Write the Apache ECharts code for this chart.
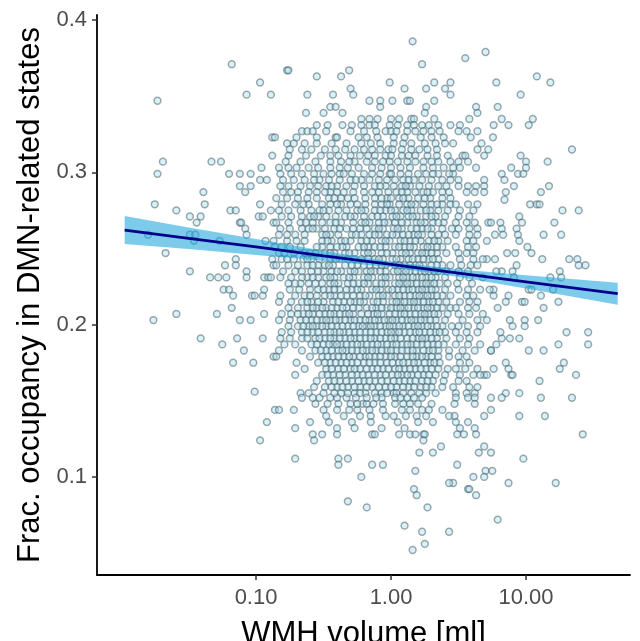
<!DOCTYPE html>
<html>
<head>
<meta charset="utf-8">
<title>WMH volume vs DMN occupancy</title>
<script src="https://cdn.jsdelivr.net/npm/echarts@6/dist/echarts.min.js"></script>
<style>
  html, body { margin: 0; padding: 0; background: #fff; }
  #chart { width: 640px; height: 641px; }
</style>
</head>
<body>
<div id="chart"></div>
<script>
// x = log10(WMH volume [ml]), y = fractional occupancy in DMN-related states
const xTicks = [-1, 0, 1];
const yTicks = [0.1, 0.2, 0.3, 0.4];

// sparse points, low volumes
const leftPoints = [
  [-1.18,0.371],[-1.73,0.347],[-0.97,0.359],[-1.07,0.351],[-0.89,0.351],[-0.88,0.323],[-0.88,0.311],
  [-1.69,0.307],[-1.73,0.299],[-1.33,0.307],[-1.26,0.307],[-0.96,0.303],[-1.20,0.299],[-1.12,0.299],
  [-1.04,0.299],[-0.97,0.295],[-0.92,0.295],[-1.12,0.291],[-1.04,0.291],[-1.08,0.287],[-1.39,0.287],
  [-1.75,0.279],[-1.59,0.275],[-1.38,0.279],[-1.49,0.271],[-1.41,0.271],[-1.44,0.267],[-1.19,0.275],
  [-1.15,0.275],[-1.12,0.267],[-1.11,0.267],[-1.08,0.263],[-1.07,0.259],[-0.97,0.279],[-0.98,0.271],
  [-0.95,0.271],[-0.89,0.275],[-0.87,0.267],[-1.80,0.259],[-1.49,0.259],[-1.45,0.259],[-1.46,0.255],
  [-1.27,0.255],[-0.93,0.255],[-0.87,0.255],[-1.67,0.247],[-1.23,0.239],[-1.15,0.243],[-1.15,0.239],
  [-0.88,0.243],[-0.87,0.239],[-1.49,0.235],[-1.07,0.235],[-1.34,0.231],[-1.28,0.231],[-1.22,0.231],
  [-1.07,0.231],[-0.94,0.231],[-0.91,0.231],[-0.89,0.231],[-1.24,0.223],[-1.20,0.223],[-1.17,0.219],
  [-1.03,0.219],[-1.01,0.219],[-0.95,0.219],[-0.94,0.223],[-1.18,0.211],[-1.76,0.203],[-1.59,0.207],
  [-1.29,0.207],[-1.12,0.203],[-1.04,0.203],[-0.94,0.207],[-1.41,0.191],[-1.25,0.187],[-1.14,0.191],
  [-0.95,0.191],[-1.09,0.183],[-0.87,0.179],[-1.17,0.175],[-1.02,0.175],[-1.01,0.156],
  [-0.92,0.136],[-0.97,0.124],[-0.86,0.144]
];

// sparse points, high volumes
const rightPoints = [
  [0.70,0.379],[0.55,0.375],[0.78,0.359],[1.08,0.363],[1.18,0.359],[0.96,0.351],[0.63,0.343],[0.64,0.339],
  [0.79,0.343],[0.58,0.335],[0.82,0.335],[0.87,0.331],[1.05,0.335],[1.02,0.331],[0.76,0.331],[0.755,0.323],
  [0.51,0.331],[0.50,0.327],[0.56,0.327],[0.64,0.327],[0.59,0.323],[0.46,0.319],[0.67,0.319],[0.64,0.315],
  [0.72,0.315],[0.69,0.311],[0.53,0.311],[0.55,0.311],[1.34,0.315],[0.96,0.311],[1.00,0.307],[1.16,0.307],
  [0.57,0.307],[0.50,0.307],[0.63,0.303],[0.89,0.303],[1.00,0.303],[0.51,0.303],[0.94,0.299],[0.98,0.299],
  [0.82,0.299],[0.46,0.299],[0.50,0.295],[0.69,0.295],[0.84,0.295],[0.91,0.291],[1.17,0.291],[1.11,0.287],
  [0.50,0.291],[0.57,0.291],[0.63,0.291],[0.69,0.291],[0.56,0.287],[0.62,0.287],[0.69,0.287],[0.85,0.287],
  [0.84,0.282],[1.03,0.279],[1.08,0.279],[1.10,0.279],[1.27,0.275],[1.39,0.275],[0.95,0.271],[0.97,0.267],
  [1.21,0.267],[1.13,0.259],[1.26,0.259],[0.93,0.263],[0.94,0.259],[0.82,0.263],[0.83,0.259],[0.72,0.267],
  [0.74,0.267],[0.81,0.267],[0.77,0.259],[0.71,0.255],[0.95,0.255],[1.01,0.251],[1.04,0.247],[0.86,0.247],
  [0.92,0.247],[1.12,0.243],[1.32,0.243],[1.38,0.243],[1.39,0.239],[1.44,0.239],[0.93,0.239],[0.77,0.243],
  [0.71,0.243],[1.25,0.235],[1.18,0.231],[1.26,0.231],[0.90,0.235],[0.91,0.231],[0.82,0.235],[0.78,0.235],
  [1.02,0.223],[1.04,0.223],[1.20,0.223],[1.11,0.219],[1.24,0.215],[0.97,0.215],[0.99,0.215],[0.87,0.219],
  [0.85,0.215],[1.13,0.211],[0.79,0.211],[0.76,0.219],[0.76,0.223],[1.09,0.203],[0.99,0.203],[0.99,0.199],
  [0.88,0.203],[0.90,0.199],[1.30,0.195],[1.46,0.195],[1.46,0.187],[1.24,0.187],[1.13,0.183],[1.02,0.183],
  [0.95,0.191],[0.88,0.191],[0.82,0.191],[0.81,0.195],[0.78,0.187],[0.74,0.183],[1.28,0.175],[1.25,0.171],
  [1.37,0.167],[1.10,0.163],[0.85,0.175],[0.87,0.171],[0.89,0.167],[0.90,0.167],[0.76,0.171],[0.69,0.167],
  [0.71,0.167],
  [0.48,0.155],[0.56,0.155],[0.62,0.155],[0.85,0.155],[0.95,0.155],[0.74,0.152],[0.82,0.152],[1.11,0.152],
  [1.34,0.152],[0.48,0.152],[0.57,0.152],[0.62,0.152],[0.62,0.148],[0.47,0.148],[0.74,0.144],[0.69,0.140],
  [0.95,0.140],[1.14,0.140],[0.47,0.140],[0.48,0.136],[0.57,0.136],[0.51,0.132],[0.62,0.132],[0.49,0.128],
  [0.54,0.128],[0.63,0.128],[1.42,0.128],[0.69,0.120],[0.65,0.116],[0.74,0.116],[0.98,0.112],[0.49,0.108],
  [0.70,0.104],[0.75,0.104],[0.61,0.100],[0.69,0.100],[0.87,0.096],[1.22,0.096],[0.46,0.096],[0.57,0.092],
  [0.58,0.092],[0.63,0.088],[0.79,0.072]
];

// sparse points, low occupancy
const lowPoints = [
  [0.37,0.120],[0.21,0.116],[0.31,0.116],[-0.71,0.112],[-0.39,0.112],[-0.32,0.112],[-0.39,0.108],
  [-0.14,0.108],[-0.06,0.108],[0.18,0.104],[-0.22,0.100],[0.43,0.096],[0.17,0.092],[0.19,0.088],
  [-0.32,0.084],[-0.18,0.080],[0.27,0.080],[0.10,0.068],[0.23,0.064],[0.43,0.064],[0.25,0.056],[0.16,0.052]
];

// dense core, one entry per occupancy level: [occupancy, [log10 volumes]]
const coreRows = [
  [0.386,[0.16]],
  [0.371,[0.23]],
  [0.367,[-0.77,-0.76,-0.31]],
  [0.363,[-0.55,-0.37]],
  [0.359,[-0.01,0.32,0.44]],
  [0.355,[-0.30,0.10,0.26,0.40]],
  [0.351,[-0.62,-0.43,-0.28,0.44]],
  [0.347,[-0.16,-0.08,0.01,0.12,0.14,0.32]],
  [0.343,[-0.45,-0.41,-0.08,0.26]],
  [0.339,[-0.63,-0.50,-0.36,0.25]],
  [0.335,[-0.22,-0.16,-0.10,0.00,0.06,0.15,0.17,0.32]],
  [0.331,[-0.36,-0.29,-0.22,-0.16,-0.12,-0.01,0.05,0.12,0.17,0.23,0.28,0.44]],
  [0.327,[-0.66,-0.62,-0.58,-0.11,-0.04,0.00,0.04,0.12,0.18,0.24,0.30]],
  [0.323,[-0.86,-0.41,-0.40,-0.24,-0.18,0.39]],
  [0.319,[-0.77,-0.72,-0.64,-0.44,-0.33,-0.08,0.02,0.09,0.15,0.25]],
  [0.315,[-0.75,-0.59,-0.49,-0.41,-0.34,-0.27,-0.20,-0.14,-0.08,-0.02,0.01,0.08,0.15,0.21,0.34]],
  [0.311,[-0.76,-0.39,-0.30,-0.23,-0.12,-0.04,0.08,0.18,0.27,0.42]],
  [0.307,[-0.67,-0.56,-0.45,-0.37,-0.27,-0.18,-0.12,-0.01,0.12,0.24,0.35,0.44]],
  [0.303,[-0.76,-0.70,-0.61,-0.54,-0.45,-0.38,-0.32,-0.24,-0.14,-0.07,0.00,0.07,0.14,0.24,0.31,0.39]],
  [0.299,[-0.74,-0.66,-0.57,-0.50,-0.44,-0.38,-0.29,-0.20,-0.14,-0.08,-0.01,0.07,0.13,0.20,0.26,0.35,0.43]],
  [0.295,[-0.72,-0.64,-0.53,-0.46,-0.38,-0.30,-0.22,-0.16,-0.09,-0.03,0.03,0.09,0.17,0.23,0.30,0.38]],
  [0.291,[-0.82,-0.76,-0.67,-0.60,-0.54,-0.48,-0.40,-0.33,-0.27,-0.20,-0.12,-0.04,0.02,0.08,0.14,0.21,0.28,0.35,0.41]],
  [0.287,[-0.80,-0.69,-0.61,-0.55,-0.45,-0.35,-0.28,-0.20,-0.09,-0.02,0.04,0.12,0.18,0.24,0.31,0.38]],
  [0.283,[-0.85,-0.77,-0.69,-0.62,-0.55,-0.46,-0.37,-0.27,-0.19,-0.12,-0.03,0.06,0.13,0.20,0.29,0.38,0.44]],
  [0.279,[-0.81,-0.71,-0.61,-0.51,-0.45,-0.37,-0.30,-0.25,-0.19,-0.12,-0.07,-0.01,0.06,0.12,0.18,0.24,0.30,0.38,0.44]],
  [0.275,[-0.83,-0.76,-0.67,-0.59,-0.53,-0.46,-0.39,-0.33,-0.25,-0.19,-0.12,-0.04,0.03,0.09,0.15,0.22,0.29,0.35,0.42]],
  [0.271,[-0.81,-0.74,-0.66,-0.60,-0.54,-0.48,-0.41,-0.34,-0.27,-0.20,-0.14,-0.06,0.01,0.07,0.13,0.19,0.26,0.33,0.40]],
  [0.267,[-0.85,-0.76,-0.67,-0.58,-0.51,-0.45,-0.37,-0.28,-0.22,-0.16,-0.09,-0.02,0.03,0.12,0.19,0.25,0.31,0.39]],
  [0.263,[-0.82,-0.75,-0.66,-0.61,-0.55,-0.49,-0.42,-0.33,-0.23,-0.18,-0.12,-0.06,0.02,0.08,0.15,0.23,0.30,0.38,0.45]],
  [0.259,[-0.83,-0.71,-0.64,-0.51,-0.45,-0.39,-0.29,-0.22,-0.16,-0.09,-0.03,0.04,0.09,0.17,0.23,0.30,0.40]],
  [0.255,[-0.77,-0.64,-0.51,-0.44,-0.37,-0.30,-0.22,-0.14,-0.07,-0.01,0.07,0.14,0.22,0.28,0.35,0.42]],
  [0.251,[-0.86,-0.81,-0.75,-0.67,-0.51,-0.45,-0.40,-0.33,-0.24,-0.17,-0.12,-0.04,0.03,0.10,0.17,0.24,0.30,0.38]],
  [0.247,[-0.83,-0.79,-0.72,-0.64,-0.56,-0.49,-0.42,-0.34,-0.27,-0.20,-0.14,-0.07,0.01,0.08,0.14,0.20,0.26,0.34,0.41]],
  [0.243,[-0.81,-0.72,-0.65,-0.59,-0.53,-0.45,-0.38,-0.32,-0.22,-0.12,-0.06,0.01,0.07,0.13,0.20,0.28,0.35]],
  [0.239,[-0.85,-0.76,-0.69,-0.62,-0.54,-0.49,-0.43,-0.34,-0.25,-0.16,-0.11,-0.04,0.03,0.10,0.18,0.24,0.30,0.38,0.44]],
  [0.235,[-0.80,-0.71,-0.59,-0.50,-0.44,-0.37,-0.30,-0.24,-0.18,-0.12,-0.04,0.02,0.08,0.14,0.22,0.28,0.35,0.41]],
  [0.231,[-0.82,-0.74,-0.62,-0.54,-0.48,-0.42,-0.35,-0.28,-0.20,-0.14,-0.07,-0.01,0.06,0.12,0.19,0.26,0.33,0.40]],
  [0.227,[-0.76,-0.67,-0.61,-0.51,-0.45,-0.39,-0.32,-0.24,-0.17,-0.11,-0.04,0.03,0.09,0.15,0.23,0.29,0.36,0.42]],
  [0.223,[-0.75,-0.60,-0.54,-0.46,-0.38,-0.29,-0.22,-0.14,-0.08,-0.02,0.05,0.13,0.20,0.26,0.33,0.40]],
  [0.219,[-0.82,-0.71,-0.64,-0.55,-0.49,-0.42,-0.33,-0.23,-0.16,-0.09,-0.03,0.03,0.10,0.18,0.24,0.30,0.38,0.44]],
  [0.215,[-0.83,-0.74,-0.66,-0.59,-0.50,-0.43,-0.35,-0.27,-0.20,-0.13,-0.06,0.01,0.07,0.14,0.20,0.28,0.35,0.41]],
  [0.211,[-0.76,-0.69,-0.62,-0.55,-0.48,-0.40,-0.33,-0.24,-0.18,-0.11,-0.03,0.04,0.10,0.17,0.24,0.30,0.38,0.44]],
  [0.207,[-0.81,-0.74,-0.65,-0.58,-0.49,-0.42,-0.34,-0.28,-0.22,-0.13,-0.07,-0.01,0.07,0.14,0.22,0.28,0.35,0.42]],
  [0.203,[-0.83,-0.75,-0.67,-0.59,-0.51,-0.45,-0.38,-0.30,-0.23,-0.16,-0.09,-0.02,0.04,0.12,0.18,0.25,0.33,0.40]],
  [0.199,[-0.76,-0.69,-0.61,-0.55,-0.48,-0.40,-0.32,-0.24,-0.18,-0.12,-0.04,0.02,0.09,0.17,0.23,0.30,0.38,0.45]],
  [0.195,[-0.81,-0.74,-0.66,-0.58,-0.49,-0.42,-0.35,-0.27,-0.19,-0.11,-0.03,0.03,0.10,0.18,0.25,0.33,0.40]],
  [0.191,[-0.82,-0.75,-0.66,-0.56,-0.49,-0.42,-0.34,-0.27,-0.19,-0.12,-0.04,0.03,0.12,0.20,0.26,0.34,0.41]],
  [0.187,[-0.79,-0.71,-0.59,-0.50,-0.43,-0.37,-0.29,-0.22,-0.14,-0.07,0.01,0.08,0.15,0.23,0.31,0.39]],
  [0.183,[-0.83,-0.66,-0.56,-0.48,-0.39,-0.33,-0.25,-0.18,-0.11,-0.03,0.04,0.12,0.19,0.28,0.35,0.43]],
  [0.179,[-0.85,-0.60,-0.51,-0.43,-0.35,-0.28,-0.19,-0.12,-0.04,0.03,0.12,0.19,0.26,0.35,0.43]],
  [0.175,[-0.70,-0.54,-0.45,-0.37,-0.29,-0.20,-0.12,-0.03,0.06,0.13,0.20,0.29,0.36]],
  [0.171,[-0.64,-0.48,-0.39,-0.30,-0.23,-0.14,-0.06,0.03,0.10,0.18,0.26,0.35,0.42]],
  [0.167,[-0.71,-0.51,-0.43,-0.34,-0.25,-0.17,-0.08,0.01,0.08,0.15,0.24,0.33,0.40]],
  [0.163,[-0.55,-0.46,-0.38,-0.29,-0.20,-0.12,-0.03,0.06,0.14,0.23,0.31,0.39]],
  [0.159,[-0.57,-0.49,-0.40,-0.32,-0.23,-0.14,-0.04,0.04,0.13,0.22,0.30,0.38]],
  [0.155,[-0.67,-0.61,-0.37,-0.27,-0.19,-0.07,0.02,0.04,0.26,0.33]],
  [0.152,[-0.66,-0.53,-0.40,-0.33,-0.07,0.03,0.12]],
  [0.148,[-0.56,-0.39,-0.30,-0.21,-0.18,-0.13,0.03,0.09,0.30]],
  [0.144,[-0.83,-0.72,-0.25,-0.16,0.08,0.23,0.28,0.38]],
  [0.140,[-0.23,-0.15,-0.04,0.02,0.11,0.43]],
  [0.136,[-0.60,-0.29,0.31]],
  [0.132,[-0.71,-0.07]],
  [0.128,[-0.58,-0.51,-0.40,-0.14,-0.12,0.06,0.14,0.18,0.24,0.25]],
  [0.124,[-0.57,0.24]]
];

// overlapping points hidden inside the core (second pass over the same levels)
const coreOverlap = [
  [0.331,[-0.55,-0.47,0.35]],
  [0.327,[-0.48,-0.30,-0.20,0.36]],
  [0.323,[-0.70,-0.55,-0.10,0.02,0.10,0.22,0.30]],
  [0.319,[-0.55,-0.22,-0.15,0.33,0.40]],
  [0.315,[-0.66,0.27]],
  [0.311,[-0.63,-0.52,-0.45,-0.17,0.00,0.13,0.34]],
  [0.307,[-0.78,-0.31,-0.06,0.05,0.18,0.30]],
  [0.303,[-0.83,0.46]],
  [0.299,[-0.82,-0.35,0.00,0.31]],
  [0.295,[-0.80,-0.57,-0.26,0.13,0.44]],
  [0.291,[-0.44,-0.08,0.11]],
  [0.287,[-0.74,-0.49,-0.40,-0.14,0.08,0.27,0.43]],
  [0.283,[-0.42,-0.32,-0.07,0.00,0.09,0.25]],
  [0.279,[-0.65,-0.40,-0.03,0.15,0.34]],
  [0.275,[-0.50,-0.22,-0.08,0.00,0.12,0.26]],
  [0.271,[-0.57,-0.30,-0.10,0.04,0.16,0.30]],
  [0.267,[-0.63,-0.41,-0.19,-0.05,0.08,0.22,0.35]],
  [0.263,[-0.58,-0.38,-0.28,-0.09,0.05,0.19,0.27]],
  [0.259,[-0.77,-0.48,-0.26,-0.12,0.01,0.13,0.20,0.35]],
  [0.255,[-0.70,-0.47,-0.34,-0.18,-0.04,0.10,0.18,0.32]],
  [0.251,[-0.55,-0.36,-0.20,-0.08,0.06,0.14,0.27,0.34]],
  [0.247,[-0.60,-0.45,-0.31,-0.17,-0.03,0.11,0.23,0.30]],
  [0.243,[-0.77,-0.62,-0.41,-0.27,-0.17,-0.09,0.04,0.16,0.24,0.31]],
  [0.239,[-0.58,-0.46,-0.29,-0.20,-0.07,0.06,0.14,0.21,0.34]],
  [0.235,[-0.66,-0.54,-0.40,-0.27,-0.15,-0.08,0.05,0.11,0.18,0.25,0.32]],
  [0.231,[-0.66,-0.58,-0.45,-0.31,-0.17,-0.04,0.09,0.16,0.23,0.30]],
  [0.227,[-0.71,-0.56,-0.42,-0.28,-0.20,-0.07,0.06,0.12,0.19,0.26,0.32]],
  [0.223,[-0.68,-0.50,-0.42,-0.33,-0.25,-0.11,0.01,0.09,0.16,0.23,0.30]],
  [0.219,[-0.60,-0.45,-0.37,-0.28,-0.19,-0.06,0.06,0.14,0.21,0.27,0.34]],
  [0.215,[-0.62,-0.54,-0.39,-0.30,-0.23,-0.10,0.04,0.10,0.17,0.24,0.31]],
  [0.211,[-0.58,-0.51,-0.44,-0.36,-0.28,-0.14,-0.07,0.00,0.07,0.13,0.20,0.27,0.34]],
  [0.207,[-0.69,-0.61,-0.53,-0.45,-0.38,-0.31,-0.17,-0.10,0.03,0.10,0.18,0.25,0.32]],
  [0.203,[-0.63,-0.55,-0.48,-0.41,-0.34,-0.27,-0.19,-0.12,-0.05,0.01,0.08,0.15,0.22,0.29]],
  [0.199,[-0.65,-0.58,-0.51,-0.44,-0.36,-0.28,-0.21,-0.15,-0.08,-0.01,0.06,0.13,0.20,0.27,0.34]],
  [0.195,[-0.62,-0.54,-0.45,-0.38,-0.31,-0.23,-0.15,-0.07,0.00,0.06,0.14,0.21,0.29,0.36]],
  [0.191,[-0.62,-0.53,-0.45,-0.38,-0.30,-0.23,-0.15,-0.08,0.00,0.07,0.16,0.23,0.30]],
  [0.187,[-0.55,-0.46,-0.40,-0.33,-0.25,-0.18,-0.10,-0.03,0.04,0.12,0.19,0.27,0.35]],
  [0.183,[-0.52,-0.44,-0.36,-0.29,-0.21,-0.14,-0.07,0.00,0.08,0.16,0.24,0.31]],
  [0.179,[-0.47,-0.39,-0.31,-0.23,-0.16,-0.08,0.00,0.07,0.16,0.23,0.30]],
  [0.175,[-0.49,-0.41,-0.33,-0.25,-0.16,-0.08,0.01,0.09,0.17,0.25,0.32]],
  [0.171,[-0.44,-0.35,-0.27,-0.18,-0.10,-0.02,0.06,0.14,0.22,0.30]],
  [0.167,[-0.47,-0.38,-0.29,-0.21,-0.12,-0.04,0.05,0.12,0.20,0.28]],
  [0.163,[-0.42,-0.33,-0.24,-0.16,-0.07,0.02,0.10,0.18,0.27]],
  [0.159,[-0.44,-0.36,-0.27,-0.18,-0.09,0.00,0.09,0.17,0.26]],
  [0.155,[-0.50,-0.42,-0.32,-0.23,-0.12,-0.03,0.09,0.15,0.21]],
  [0.152,[-0.58,-0.45,-0.26,-0.18,-0.11,0.07,0.17,0.23]],
  [0.148,[-0.47,-0.25,-0.06,0.14,0.20]],
  [0.144,[-0.50,-0.40,-0.31,-0.06,0.14]],
  [0.140,[-0.48,-0.35,0.19,0.26]],
  [0.136,[-0.46,-0.15,0.05,0.20]],
  [0.132,[-0.40,-0.27,0.10]]
];

// dense strip just right of 3 ml
const rightRows = [
  [0.279,[0.48,0.57,0.64]],[0.275,[0.51,0.61]],[0.271,[0.50,0.58]],[0.267,[0.48,0.56,0.62]],
  [0.263,[0.50,0.58,0.64]],[0.259,[0.48,0.58,0.64]],[0.255,[0.56,0.61]],[0.251,[0.48,0.57,0.63]],
  [0.247,[0.50,0.56,0.61]],[0.243,[0.51,0.61,0.68]],[0.239,[0.52,0.59,0.64]],[0.235,[0.50,0.57]],
  [0.231,[0.51,0.58,0.68]],[0.227,[0.49,0.60]],[0.223,[0.50,0.57,0.66,0.73]],[0.219,[0.56,0.61]],
  [0.215,[0.51,0.58,0.64]],[0.211,[0.48,0.57,0.63]],[0.207,[0.50,0.58,0.68]],[0.203,[0.53,0.64,0.71]],
  [0.199,[0.50,0.57,0.66]],[0.195,[0.48,0.56,0.64]],[0.191,[0.51,0.58]],[0.187,[0.48,0.57,0.66]],
  [0.183,[0.53,0.62,0.74]],[0.179,[0.50,0.56]],[0.175,[0.51,0.58]],[0.171,[0.48,0.55,0.64]],
  [0.167,[0.51,0.61,0.66]],[0.163,[0.50,0.56]],[0.159,[0.46,0.58,0.64]]
];

// linear fit and its confidence band
const fitLog   = [-1.973, -1.5, -1.0, -0.5, 0, 0.5, 1.0, 1.679];
const fitOcc   = [0.2621, 0.2567, 0.2510, 0.2452, 0.2395, 0.2338, 0.2281, 0.2203];
const bandLow  = [0.2529, 0.2496, 0.2457, 0.2419, 0.2377, 0.2313, 0.2237, 0.2131];
const bandHigh = [0.2713, 0.2638, 0.2563, 0.2485, 0.2413, 0.2363, 0.2325, 0.2275];

function fromRows(rows) {
  const out = [];
  rows.forEach(r => r[1].forEach(x => out.push([x, r[0]])));
  return out;
}

const points = leftPoints.concat(rightPoints, lowPoints, fromRows(coreRows),
  fromRows(coreOverlap), fromRows(rightRows));
const bandData = fitLog.map((x, i) => [x, bandLow[i], bandHigh[i]]);

const chart = echarts.init(document.getElementById('chart'));
chart.setOption({
  animation: false,
  backgroundColor: '#fff',
  grid: { left: 97, right: 10, top: 15, bottom: 66, outerBoundsMode: 'none', containLabel: false },
  xAxis: {
    type: 'value',
    min: -2.178,
    max: 1.77,
    name: 'WMH volume [ml]',
    nameLocation: 'middle',
    nameGap: 44,
    nameTextStyle: { fontFamily: 'Liberation Sans', fontSize: 31, color: '#000' },
    splitLine: { show: false },
    axisLine: { onZero: false, lineStyle: { color: '#000', width: 1.8 } },
    axisTick: { customValues: xTicks, length: 5, lineStyle: { color: '#333', width: 1.5 } },
    axisLabel: {
      customValues: xTicks,
      margin: 12,
      fontFamily: 'Liberation Sans',
      fontSize: 22,
      color: '#4d4d4d',
      formatter: v => Math.pow(10, v).toFixed(2)
    }
  },
  yAxis: {
    type: 'value',
    min: 0.0356,
    max: 0.4033,
    name: 'Frac. occupancy in DMN-related states',
    nameLocation: 'middle',
    nameGap: 51,
    nameTextStyle: { fontFamily: 'Liberation Sans', fontSize: 31, color: '#000' },
    splitLine: { show: false },
    axisLine: { onZero: false, lineStyle: { color: '#000', width: 1.8 } },
    axisTick: { customValues: yTicks, length: 5, lineStyle: { color: '#333', width: 1.5 } },
    axisLabel: {
      customValues: yTicks,
      margin: 10,
      fontFamily: 'Liberation Sans',
      fontSize: 22,
      color: '#4d4d4d',
      formatter: v => v.toFixed(1)
    }
  },
  series: [
    {
      type: 'scatter',
      data: points,
      symbol: 'circle',
      symbolSize: 6.8,
      itemStyle: {
        color: 'rgba(175,228,244,0.6)',
        borderColor: 'rgba(60,82,92,0.62)',
        borderWidth: 1.5
      },
      z: 2
    },
    {
      // confidence band drawn as one polygon through the axis scales
      type: 'custom',
      data: bandData,
      encode: { x: 0, y: [1, 2] },
      renderItem: function (params, api) {
        if (params.dataIndex !== 0) return;
        const upper = bandData.map(d => api.coord([d[0], d[2]]));
        const lower = bandData.slice().reverse().map(d => api.coord([d[0], d[1]]));
        return {
          type: 'polygon',
          shape: { points: upper.concat(lower) },
          style: { fill: 'rgba(30,165,220,0.58)' }
        };
      },
      z: 3
    },
    {
      type: 'line',
      data: fitLog.map((x, i) => [x, fitOcc[i]]),
      symbol: 'none',
      lineStyle: { color: '#00008b', width: 2.8 },
      z: 4
    }
  ]
});
</script>
</body>
</html>
